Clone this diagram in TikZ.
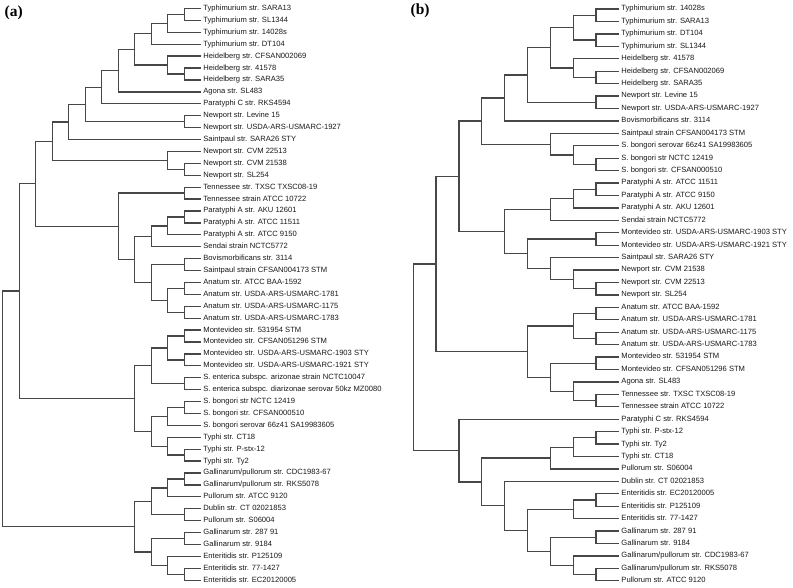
\documentclass[tikz,border=0pt]{standalone}
\usepackage{fontspec}
\setmainfont{Liberation Sans}
\newfontfamily\labfont{Liberation Serif}
\begin{document}
\begin{tikzpicture}[
  leaf/.style={anchor=west, inner xsep=2.4pt, inner ysep=0pt, text height=5.4pt, text depth=1.5pt,
    font=\fontsize{7.6pt}{8pt}\selectfont, text=black!90},
  br/.style={draw=black!72, line width=1.3pt},
  panel/.style={anchor=west, inner sep=0pt, font=\labfont\bfseries\fontsize{15.5pt}{16pt}\selectfont}
]
\newcommand\brr[3]{\draw[br] (#1) |- (#2) (#1) |- (#3);}
\useasboundingbox (0pt,0pt) rectangle (793pt,-587pt);
\fill[white] (0pt,0pt) rectangle (793pt,-587pt);

\node[panel] (la) at (4.5pt,-13pt) {(a)};
\node[panel] (lb) at (410.5pt,-11pt) {(b)};

% ---------------- tree (a) ----------------
\begin{scope}[shift={(2.7pt,-8.5pt)}, x={(16.51pt,0pt)}, y={(0pt,-11.91pt)}]
\node[leaf] (a0) at (12,0) {Typhimurium str. SARA13};
\node[leaf] (a1) at (12,1) {Typhimurium str. SL1344};
\node[leaf] (a2) at (12,2) {Typhimurium str. 14028s};
\node[leaf] (a3) at (12,3) {Typhimurium str. DT104};
\node[leaf] (a4) at (12,4) {Heidelberg str. CFSAN002069};
\node[leaf] (a5) at (12,5) {Heidelberg str. 41578};
\node[leaf] (a6) at (12,6) {Heidelberg str. SARA35};
\node[leaf] (a7) at (12,7) {Agona str. SL483};
\node[leaf] (a8) at (12,8) {Paratyphi C str. RKS4594};
\node[leaf] (a9) at (12,9) {Newport str. Levine 15};
\node[leaf] (a10) at (12,10) {Newport str. USDA-ARS-USMARC-1927};
\node[leaf] (a11) at (12,11) {Saintpaul str. SARA26 STY};
\node[leaf] (a12) at (12,12) {Newport str. CVM 22513};
\node[leaf] (a13) at (12,13) {Newport str. CVM 21538};
\node[leaf] (a14) at (12,14) {Newport str. SL254};
\node[leaf] (a15) at (12,15) {Tennessee str. TXSC TXSC08-19};
\node[leaf] (a16) at (12,16) {Tennessee strain ATCC 10722};
\node[leaf] (a17) at (12,17) {Paratyphi A str. AKU 12601};
\node[leaf] (a18) at (12,18) {Paratyphi A str. ATCC 11511};
\node[leaf] (a19) at (12,19) {Paratyphi A str. ATCC 9150};
\node[leaf] (a20) at (12,20) {Sendai strain NCTC5772};
\node[leaf] (a21) at (12,21) {Bovismorbificans str. 3114};
\node[leaf] (a22) at (12,22) {Saintpaul strain CFSAN004173 STM};
\node[leaf] (a23) at (12,23) {Anatum str. ATCC BAA-1592};
\node[leaf] (a24) at (12,24) {Anatum str. USDA-ARS-USMARC-1781};
\node[leaf] (a25) at (12,25) {Anatum str. USDA-ARS-USMARC-1175};
\node[leaf] (a26) at (12,26) {Anatum str. USDA-ARS-USMARC-1783};
\node[leaf] (a27) at (12,27) {Montevideo str. 531954 STM};
\node[leaf] (a28) at (12,28) {Montevideo str. CFSAN051296 STM};
\node[leaf] (a29) at (12,29) {Montevideo str. USDA-ARS-USMARC-1903 STY};
\node[leaf] (a30) at (12,30) {Montevideo str. USDA-ARS-USMARC-1921 STY};
\node[leaf] (a31) at (12,31) {S. enterica subspc. arizonae strain NCTC10047};
\node[leaf] (a32) at (12,32) {S. enterica subspc. diarizonae serovar 50kz MZ0080};
\node[leaf] (a33) at (12,33) {S. bongori str NCTC 12419};
\node[leaf] (a34) at (12,34) {S. bongori str. CFSAN000510};
\node[leaf] (a35) at (12,35) {S. bongori serovar 66z41 SA19983605};
\node[leaf] (a36) at (12,36) {Typhi str. CT18};
\node[leaf] (a37) at (12,37) {Typhi str. P-stx-12};
\node[leaf] (a38) at (12,38) {Typhi str. Ty2};
\node[leaf] (a39) at (12,39) {Gallinarum/pullorum str. CDC1983-67};
\node[leaf] (a40) at (12,40) {Gallinarum/pullorum str. RKS5078};
\node[leaf] (a41) at (12,41) {Pullorum str. ATCC 9120};
\node[leaf] (a42) at (12,42) {Dublin str. CT 02021853};
\node[leaf] (a43) at (12,43) {Pullorum str. S06004};
\node[leaf] (a44) at (12,44) {Gallinarum str. 287 91};
\node[leaf] (a45) at (12,45) {Gallinarum str. 9184};
\node[leaf] (a46) at (12,46) {Enteritidis str. P125109};
\node[leaf] (a47) at (12,47) {Enteritidis str. 77-1427};
\node[leaf] (a48) at (12,48) {Enteritidis str. EC20120005};

\coordinate (A1) at (11,0.5);
\coordinate (A2) at (10,1.25);
\coordinate (A3) at (9,2.125);
\coordinate (A4) at (11,5.5);
\coordinate (A5) at (10,4.75);
\coordinate (A6) at (8,3.4375);
\coordinate (A7) at (7,5.21875);
\coordinate (A8) at (6,6.609375);
\coordinate (A9) at (11,9.5);
\coordinate (A10) at (5,8.0546875);
\coordinate (A11) at (4,9.52734);
\coordinate (A12) at (11,13.5);
\coordinate (A13) at (10,12.75);
\coordinate (A14) at (3,11.13867);
\coordinate (A15) at (11,15.5);
\coordinate (A16) at (11,17.5);
\coordinate (A17) at (10,18.25);
\coordinate (A18) at (9,19.125);
\coordinate (A19) at (11,21.5);
\coordinate (A20) at (11,23.5);
\coordinate (A21) at (11,25.5);
\coordinate (A22) at (10,24.5);
\coordinate (A23) at (9,23);
\coordinate (A24) at (8,21.0625);
\coordinate (A25) at (7,18.28125);
\coordinate (A26) at (2,14.70996);
\coordinate (A27) at (11,27.5);
\coordinate (A28) at (11,29.5);
\coordinate (A29) at (10,28.5);
\coordinate (A30) at (11,31.5);
\coordinate (A31) at (9,30);
\coordinate (A32) at (11,33.5);
\coordinate (A33) at (10,34.25);
\coordinate (A34) at (11,37.5);
\coordinate (A35) at (10,36.75);
\coordinate (A36) at (9,35.5);
\coordinate (A37) at (8,32.75);
\coordinate (A38) at (1,23.72998);
\coordinate (A39) at (11,39.5);
\coordinate (A40) at (10,40.25);
\coordinate (A41) at (11,42.5);
\coordinate (A42) at (9,41.375);
\coordinate (A43) at (11,44.5);
\coordinate (A44) at (11,47.5);
\coordinate (A45) at (10,46.75);
\coordinate (A46) at (9,45.625);
\coordinate (A47) at (8,43.5);
\coordinate (A48) at (0,33.615);
\end{scope}

\brr{A1}{a0.west}{a1.west}
\brr{A2}{A1}{a2.west}
\brr{A3}{A2}{a3.west}
\brr{A4}{a5.west}{a6.west}
\brr{A5}{a4.west}{A4}
\brr{A6}{A3}{A5}
\brr{A7}{A6}{a7.west}
\brr{A8}{A7}{a8.west}
\brr{A9}{a9.west}{a10.west}
\brr{A10}{A8}{A9}
\brr{A11}{A10}{a11.west}
\brr{A12}{a13.west}{a14.west}
\brr{A13}{a12.west}{A12}
\brr{A14}{A11}{A13}
\brr{A15}{a15.west}{a16.west}
\brr{A16}{a17.west}{a18.west}
\brr{A17}{A16}{a19.west}
\brr{A18}{A17}{a20.west}
\brr{A19}{a21.west}{a22.west}
\brr{A20}{a23.west}{a24.west}
\brr{A21}{a25.west}{a26.west}
\brr{A22}{A20}{A21}
\brr{A23}{A19}{A22}
\brr{A24}{A18}{A23}
\brr{A25}{A15}{A24}
\brr{A26}{A14}{A25}
\brr{A27}{a27.west}{a28.west}
\brr{A28}{a29.west}{a30.west}
\brr{A29}{A27}{A28}
\brr{A30}{a31.west}{a32.west}
\brr{A31}{A29}{A30}
\brr{A32}{a33.west}{a34.west}
\brr{A33}{A32}{a35.west}
\brr{A34}{a37.west}{a38.west}
\brr{A35}{a36.west}{A34}
\brr{A36}{A33}{A35}
\brr{A37}{A31}{A36}
\brr{A38}{A26}{A37}
\brr{A39}{a39.west}{a40.west}
\brr{A40}{A39}{a41.west}
\brr{A41}{a42.west}{a43.west}
\brr{A42}{A40}{A41}
\brr{A43}{a44.west}{a45.west}
\brr{A44}{a47.west}{a48.west}
\brr{A45}{a46.west}{A44}
\brr{A46}{A43}{A45}
\brr{A47}{A42}{A46}
\brr{A48}{A38}{A47}

% ---------------- tree (b) ----------------
\begin{scope}[shift={(413.3pt,-9pt)}, x={(22.84pt,0pt)}, y={(0pt,-12.43pt)}]
\node[leaf] (b0) at (9,0) {Typhimurium str. 14028s};
\node[leaf] (b1) at (9,1) {Typhimurium str. SARA13};
\node[leaf] (b2) at (9,2) {Typhimurium str. DT104};
\node[leaf] (b3) at (9,3) {Typhimurium str. SL1344};
\node[leaf] (b4) at (9,4) {Heidelberg str. 41578};
\node[leaf] (b5) at (9,5) {Heidelberg str. CFSAN002069};
\node[leaf] (b6) at (9,6) {Heidelberg str. SARA35};
\node[leaf] (b7) at (9,7) {Newport str. Levine 15};
\node[leaf] (b8) at (9,8) {Newport str. USDA-ARS-USMARC-1927};
\node[leaf] (b9) at (9,9) {Bovismorbificans str. 3114};
\node[leaf] (b10) at (9,10) {Saintpaul strain CFSAN004173 STM};
\node[leaf] (b11) at (9,11) {S. bongori serovar 66z41 SA19983605};
\node[leaf] (b12) at (9,12) {S. bongori str NCTC 12419};
\node[leaf] (b13) at (9,13) {S. bongori str. CFSAN000510};
\node[leaf] (b14) at (9,14) {Paratyphi A str. ATCC 11511};
\node[leaf] (b15) at (9,15) {Paratyphi A str. ATCC 9150};
\node[leaf] (b16) at (9,16) {Paratyphi A str. AKU 12601};
\node[leaf] (b17) at (9,17) {Sendai strain NCTC5772};
\node[leaf] (b18) at (9,18) {Montevideo str. USDA-ARS-USMARC-1903 STY};
\node[leaf] (b19) at (9,19) {Montevideo str. USDA-ARS-USMARC-1921 STY};
\node[leaf] (b20) at (9,20) {Saintpaul str. SARA26 STY};
\node[leaf] (b21) at (9,21) {Newport str. CVM 21538};
\node[leaf] (b22) at (9,22) {Newport str. CVM 22513};
\node[leaf] (b23) at (9,23) {Newport str. SL254};
\node[leaf] (b24) at (9,24) {Anatum str. ATCC BAA-1592};
\node[leaf] (b25) at (9,25) {Anatum str. USDA-ARS-USMARC-1781};
\node[leaf] (b26) at (9,26) {Anatum str. USDA-ARS-USMARC-1175};
\node[leaf] (b27) at (9,27) {Anatum str. USDA-ARS-USMARC-1783};
\node[leaf] (b28) at (9,28) {Montevideo str. 531954 STM};
\node[leaf] (b29) at (9,29) {Montevideo str. CFSAN051296 STM};
\node[leaf] (b30) at (9,30) {Agona str. SL483};
\node[leaf] (b31) at (9,31) {Tennessee str. TXSC TXSC08-19};
\node[leaf] (b32) at (9,32) {Tennessee strain ATCC 10722};
\node[leaf] (b33) at (9,33) {Paratyphi C str. RKS4594};
\node[leaf] (b34) at (9,34) {Typhi str. P-stx-12};
\node[leaf] (b35) at (9,35) {Typhi str. Ty2};
\node[leaf] (b36) at (9,36) {Typhi str. CT18};
\node[leaf] (b37) at (9,37) {Pullorum str. S06004};
\node[leaf] (b38) at (9,38) {Dublin str. CT 02021853};
\node[leaf] (b39) at (9,39) {Enteritidis str. EC20120005};
\node[leaf] (b40) at (9,40) {Enteritidis str. P125109};
\node[leaf] (b41) at (9,41) {Enteritidis str. 77-1427};
\node[leaf] (b42) at (9,42) {Gallinarum str. 287 91};
\node[leaf] (b43) at (9,43) {Gallinarum str. 9184};
\node[leaf] (b44) at (9,44) {Gallinarum/pullorum str. CDC1983-67};
\node[leaf] (b45) at (9,45) {Gallinarum/pullorum str. RKS5078};
\node[leaf] (b46) at (9,46) {Pullorum str. ATCC 9120};

\coordinate (B1) at (8,0.5);
\coordinate (B2) at (8,2.5);
\coordinate (B3) at (7,1.5);
\coordinate (B4) at (8,5.5);
\coordinate (B5) at (7,4.75);
\coordinate (B6) at (6,3.125);
\coordinate (B7) at (8,7.5);
\coordinate (B8) at (5,5.3125);
\coordinate (B9) at (4,7.15625);
\coordinate (B10) at (8,12.5);
\coordinate (B11) at (7,11.75);
\coordinate (B12) at (6,10.875);
\coordinate (B13) at (3,9.015625);
\coordinate (B14) at (8,14.5);
\coordinate (B15) at (7,15.25);
\coordinate (B16) at (6,16.125);
\coordinate (B17) at (8,18.5);
\coordinate (B18) at (8,22.5);
\coordinate (B19) at (7,21.75);
\coordinate (B20) at (6,20.875);
\coordinate (B21) at (5,19.6875);
\coordinate (B22) at (4,17.90625);
\coordinate (B23) at (2,13.4609375);
\coordinate (B24) at (8,24.5);
\coordinate (B25) at (8,26.5);
\coordinate (B26) at (7,25.5);
\coordinate (B27) at (8,28.5);
\coordinate (B28) at (8,31.5);
\coordinate (B29) at (7,30.75);
\coordinate (B30) at (6,29.625);
\coordinate (B31) at (5,27.5625);
\coordinate (B32) at (1,20.51171875);
\coordinate (B33) at (8,34.5);
\coordinate (B34) at (7,35.25);
\coordinate (B35) at (6,36.125);
\coordinate (B36) at (8,39.5);
\coordinate (B37) at (7,40.25);
\coordinate (B38) at (8,42.5);
\coordinate (B39) at (8,45.5);
\coordinate (B40) at (7,44.75);
\coordinate (B41) at (6,43.625);
\coordinate (B42) at (5,41.9375);
\coordinate (B43) at (4,39.96875);
\coordinate (B44) at (3,38.046875);
\coordinate (B45) at (2,35.5234375);
\coordinate (B46) at (0,28.017578);
\end{scope}

\brr{B1}{b0.west}{b1.west}
\brr{B2}{b2.west}{b3.west}
\brr{B3}{B1}{B2}
\brr{B4}{b5.west}{b6.west}
\brr{B5}{b4.west}{B4}
\brr{B6}{B3}{B5}
\brr{B7}{b7.west}{b8.west}
\brr{B8}{B6}{B7}
\brr{B9}{B8}{b9.west}
\brr{B10}{b12.west}{b13.west}
\brr{B11}{b11.west}{B10}
\brr{B12}{b10.west}{B11}
\brr{B13}{B9}{B12}
\brr{B14}{b14.west}{b15.west}
\brr{B15}{B14}{b16.west}
\brr{B16}{B15}{b17.west}
\brr{B17}{b18.west}{b19.west}
\brr{B18}{b22.west}{b23.west}
\brr{B19}{b21.west}{B18}
\brr{B20}{b20.west}{B19}
\brr{B21}{B17}{B20}
\brr{B22}{B16}{B21}
\brr{B23}{B13}{B22}
\brr{B24}{b24.west}{b25.west}
\brr{B25}{b26.west}{b27.west}
\brr{B26}{B24}{B25}
\brr{B27}{b28.west}{b29.west}
\brr{B28}{b31.west}{b32.west}
\brr{B29}{b30.west}{B28}
\brr{B30}{B27}{B29}
\brr{B31}{B26}{B30}
\brr{B32}{B23}{B31}
\brr{B33}{b34.west}{b35.west}
\brr{B34}{B33}{b36.west}
\brr{B35}{B34}{b37.west}
\brr{B36}{b39.west}{b40.west}
\brr{B37}{B36}{b41.west}
\brr{B38}{b42.west}{b43.west}
\brr{B39}{b45.west}{b46.west}
\brr{B40}{b44.west}{B39}
\brr{B41}{B38}{B40}
\brr{B42}{B37}{B41}
\brr{B43}{b38.west}{B42}
\brr{B44}{B35}{B43}
\brr{B45}{b33.west}{B44}
\brr{B46}{B32}{B45}
\end{tikzpicture}
\end{document}
